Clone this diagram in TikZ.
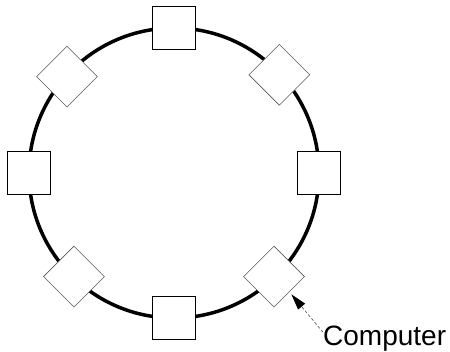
\documentclass[tikz,border=0pt]{standalone}
\usepackage{fontspec}
\setmainfont{Liberation Sans}
\usetikzlibrary{arrows.meta}
\begin{document}
\begin{tikzpicture}[
			x=1pt, y=1pt,
			station/.style={rectangle,draw,fill=white,line width=0.8pt,minimum size=43pt,inner sep=0pt},
			tilted/.style={station,rotate=45,draw=black!65,line width=0.6pt}
		]
		\useasboundingbox (0,0) rectangle (450,351);
		\coordinate (ctr) at (174,178);
		\draw[line width=3.5pt] (ctr) circle[radius=145pt];

		\node[station] (pc1) at ([shift={(90:145pt)}]ctr) {};
		\node[tilted] (pc2) at ([shift={(43:144pt)}]ctr) {};
		\node[station] (pc3) at ([shift={(0:145pt)}]ctr) {};
		\node[tilted] (pc4) at ([shift={(314:144pt)}]ctr) {};
		\node[station] (pc5) at ([shift={(270:145pt)}]ctr) {};
		\node[tilted] (pc6) at ([shift={(226:144pt)}]ctr) {};
		\node[station] (pc7) at ([shift={(180:145pt)}]ctr) {};
		\node[tilted] (pc8) at ([shift={(138:144pt)}]ctr) {};

		\node[anchor=base west, inner sep=0pt, font=\fontsize{28}{32}\selectfont] (label) at (323,6) {Computer};

		\draw[densely dashed, black!70, line width=0.6pt, shorten >=3pt, -{Triangle[length=16pt,width=9pt,black]}] ([yshift=-7pt]label.north west) -- (pc4.south);
	\end{tikzpicture}
\end{document}
